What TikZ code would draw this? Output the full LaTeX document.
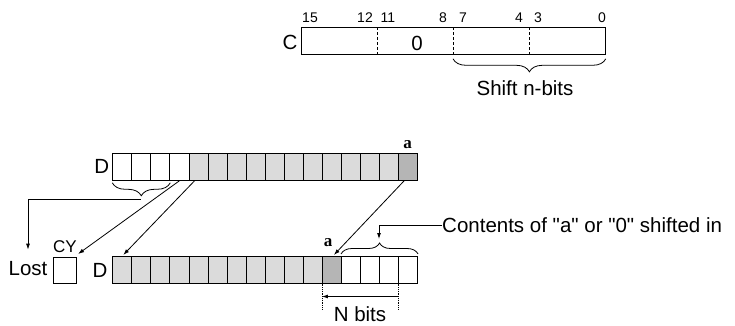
\documentclass[tikz,border=0pt]{standalone}
\usepackage{fontspec}
\setmainfont{Liberation Sans}[Ligatures=TeXOff]
\newfontfamily\serifa{Liberation Serif}
\usetikzlibrary{decorations.pathreplacing,arrows.meta,calc}
\begin{document}
\begin{tikzpicture}[x=1pt,y=-1pt,
  lbl/.style={font=\fontsize{20.5}{20.5}\selectfont, inner sep=0},
  num/.style={font=\fontsize{14}{14}\selectfont, inner sep=0},
  sml/.style={font=\fontsize{17}{17}\selectfont, inner sep=0},
  alab/.style={font=\serifa\bfseries\fontsize{17}{17}\selectfont, inner sep=0},
  cell/.style={draw, line width=0.8pt, minimum width=19.06pt, minimum height=26.7pt, inner sep=0, anchor=north west},
  lcell/.style={cell, fill=gray!28},
  dcell/.style={cell, fill=gray!58},
  ln/.style={line width=0.8pt},
  arr/.style={ln, -{Latex[length=6pt,width=4pt]}},
  brc/.style={ln, decorate, decoration={brace, amplitude=#1}}
]
\useasboundingbox (0,0) rectangle (735,326);

% ---- C register ----
\node[draw, ln, minimum width=304pt, minimum height=26.7pt, inner sep=0, anchor=north west] (C) at (301,27.3) {};
\foreach \k in {1,2,3}
  \draw[ln, densely dashed] ($(C.north west)+(76*\k,0)$) -- ($(C.south west)+(76*\k,0)$);
\node[lbl] (Clab) at (290,42) {C};
\node[lbl] (Czero) at (417,43) {0};
\node[num] (n15) at (310,18) {15};
\node[num] (n12) at (365,18) {12};
\node[num] (n11) at (388,18) {11};
\node[num] (n8) at (443,18) {8};
\node[num] (n7) at (463,18) {7};
\node[num] (n4) at (519,18) {4};
\node[num] (n3) at (538,18) {3};
\node[num] (n0) at (602,18) {0};
\draw[brc=13pt] ($(C.south east)+(0,4)$) -- ($(C.south west)+(152,4)$);
\node[lbl] (shift) at (525,88) {Shift n-bits};

% ---- D top ----
\foreach \i in {0,...,3} \node[cell] (t\i) at ({112.3+19.06*\i},153.3) {};
\foreach \i in {4,...,14} \node[lcell] (t\i) at ({112.3+19.06*\i},153.3) {};
\node[dcell] (t15) at ({112.3+19.06*15},153.3) {};
\node[lbl] (Dtop) at (101.7,166.7) {D};
\node[alab] (atop) at (407.7,145) {a};

% ---- D bottom ----
\foreach \i in {0,...,10} \node[lcell] (b\i) at ({112.3+19.06*\i},256) {};
\node[dcell] (b11) at ({112.3+19.06*11},256) {};
\foreach \i in {12,...,15} \node[cell] (b\i) at ({112.3+19.06*\i},256) {};
\node[lbl] (Dbot) at (100,270) {D};
\node[alab] (abot) at (328,243) {a};

% ---- CY and Lost ----
\node[draw, ln, minimum width=23pt, minimum height=26pt, inner sep=0, anchor=north west] (CY) at (53.3,257) {};
\node[sml] (CYlab) at (65,246.5) {CY};
\node[lbl] (Lost) at (28,269) {Lost};

% braces
\draw[brc=13pt] ($(t2.south east)+(0,2)$) -- ($(t0.south west)+(0,2)$);
\coordinate (btip) at (140.9,199);
\draw[arr] (btip) -| ([yshift=12pt]Lost.north);

\draw[brc=11pt] ($(b12.north west)+(0,-2)$) -- ($(b15.north east)+(0,-2)$);
\node[lbl, anchor=west] (cont) at (442,225) {Contents of "a" or "0" shifted in};
\coordinate (btip2) at (379,239);
\draw[arr] (cont.west) -| (btip2);

% diagonal transfers
\draw[arr] (t3.south) -- ($(CY.north east)+(1,-3)$);
\draw[arr] ($(t4.south west)+(6,0)$) -- ($(b0.north)+(1,-1)$);
\draw[arr] ($(t15.south)+(-4,0)$) -- ($(b11.north)+(2,-1)$);

% N bits
\draw[ln, densely dotted] (b11.south west) -- ++(0,26);
\draw[ln, densely dotted] (b15.south west) -- ++(0,26);
\draw[arr] ($(b15.south west)+(0,13)$) -- ($(b11.south west)+(0,13)$);
\node[lbl] (nbits) at (360,314) {N bits};
\end{tikzpicture}
\end{document}
